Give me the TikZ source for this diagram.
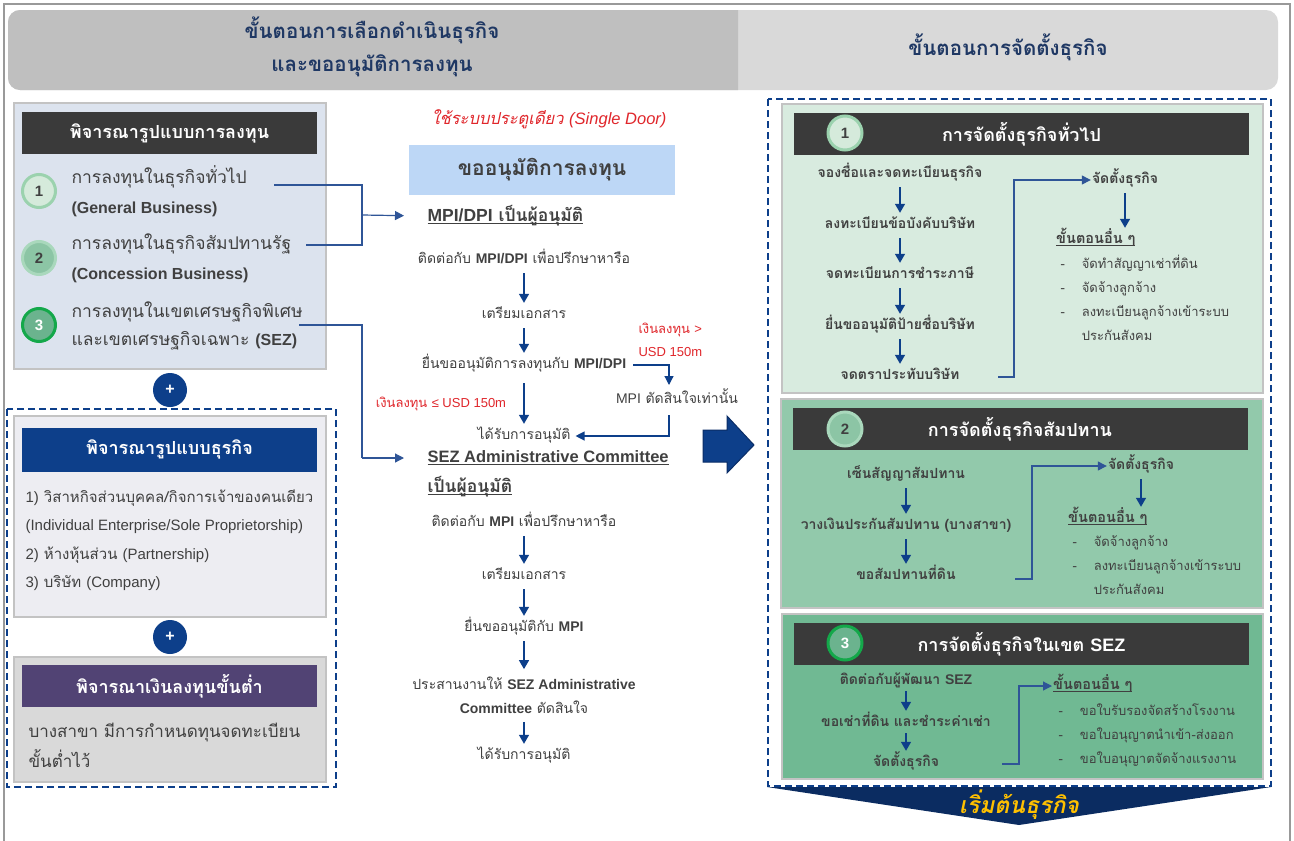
\documentclass[tikz,border=0pt]{standalone}
\usepackage{fontspec}
\setmainfont[Script=Thai]{Loma}
\newfontfamily\en{Liberation Sans}
\usetikzlibrary{arrows.meta}

\definecolor{hdrL}{HTML}{BFBFBF}
\definecolor{hdrR}{HTML}{D9D9D9}
\definecolor{hdrtxt}{HTML}{1F3864}
\definecolor{txt}{HTML}{404040}
\definecolor{bardark}{HTML}{3A3A3A}
\definecolor{navy}{HTML}{0D3F8A}
\definecolor{navydark}{HTML}{0A2D66}
\definecolor{purp}{HTML}{514374}
\definecolor{lnkblue}{HTML}{2F5597}
\definecolor{redtxt}{HTML}{E0262B}
\definecolor{ltblue}{HTML}{BDD7F6}
\definecolor{pnlA}{HTML}{DCE3EE}
\definecolor{pnlB}{HTML}{EDEDF2}
\definecolor{pnlC}{HTML}{D9D9D9}
\definecolor{pnlline}{HTML}{C3C3C3}
\definecolor{grnA}{HTML}{D8EBDF}
\definecolor{grnB}{HTML}{92C9AB}
\definecolor{grnC}{HTML}{70B993}
\definecolor{cirA}{HTML}{D5EADB}
\definecolor{cirAd}{HTML}{9BD2AE}
\definecolor{cirB}{HTML}{8CC5A5}
\definecolor{cirBd}{HTML}{A9D8BC}
\definecolor{cirC}{HTML}{6BB38E}
\definecolor{cirCd}{HTML}{14A84A}
\definecolor{chev}{HTML}{0B2C61}
\definecolor{gold}{HTML}{FFC000}

\newcommand\undl[1]{\setbox0\hbox{#1}\rlap{\rule[-2.5pt]{\wd0}{0.9pt}}\box0}

\begin{document}
\begin{tikzpicture}[x=1pt,y=-1pt,
  hdr/.style={text=hdrtxt,align=center,font=\bfseries\fontsize{20.5}{33}\selectfont},
  bar/.style={text=white,minimum width=295pt,inner sep=0pt,font=\bfseries\fontsize{18}{20}\selectfont},
  rbar/.style={fill=bardark,text=white,minimum width=455pt,minimum height=42pt,inner sep=0pt,font=\bfseries\fontsize{18}{20}\selectfont},
  numc/.style={circle,minimum size=33pt,inner sep=0pt,line width=3pt,text=txt,font=\en\bfseries\fontsize{15}{15}\selectfont},
  plus/.style={circle,fill=navy,minimum size=34pt,inner sep=0pt,text=white,font=\en\bfseries\fontsize{16}{16}\selectfont},
  item/.style={anchor=west,align=left,text=txt,font=\fontsize{17.5}{30}\selectfont},
  stp/.style={text=txt,text height=10pt,text depth=4pt,inner sep=1pt,font=\fontsize{14}{24}\selectfont},
  stp2/.style={text=txt,align=center,font=\fontsize{14}{24}\selectfont},
  rstp/.style={text=txt,text height=10pt,text depth=4pt,inner sep=1pt,font=\bfseries\fontsize{14}{16}\selectfont},
  redt/.style={text=redtxt,font=\fontsize{13}{23}\selectfont},
  ttl/.style={anchor=west,text=txt,font=\bfseries\fontsize{17.5}{20}\selectfont},
  rlst/.style={anchor=base west,text=txt,font=\fontsize{13}{24}\selectfont},
  arr/.style={draw=navy,line width=1.4pt,-{Triangle[length=9pt,width=10pt]},shorten <=5pt,shorten >=4pt},
  lnk/.style={draw=lnkblue,line width=1.2pt},
  tip/.style={-{Triangle[length=9pt,width=9pt]}},
  panel/.style={draw=pnlline,line width=1.5pt},
  dbox/.style={draw=navy,line width=1.6pt,dash pattern=on 7pt off 4pt}]
\useasboundingbox (0,0) rectangle (1294,841);
\fill[white] (0,0) rectangle (1294,841);
% frame
\draw[gray!80,line width=1.5pt] (4,4) rectangle (1290,850);

% headers
\fill[hdrR,rounded corners=12pt] (8,10) rectangle (1278,90);
\begin{scope}
  \clip (0,0) rectangle (738,100);
  \fill[hdrL,rounded corners=12pt] (8,10) rectangle (1278,90);
\end{scope}
\node[hdr] (hL) at (372,47) {ขั้นตอนการเลือกดำเนินธุรกิจ\\และขออนุมัติการลงทุน};
\node[hdr] (hR) at (1008,47) {ขั้นตอนการจัดตั้งธุรกิจ};

% investment type
\draw[panel,fill=pnlA] (14,103) rectangle (326,369);
\node[bar,fill=bardark,minimum height=42pt] (bA) at (169.5,133) {พิจารณารูปแบบการลงทุน};
\node[numc,fill=cirA,draw=cirAd] (n1) at (39,191) {1};
\node[numc,fill=cirB,draw=cirBd] (n2) at (39,258) {2};
\node[numc,fill=cirC,draw=cirCd,text=white] (n3) at (39,325) {3};
\node[item] (it1) at (68,191) {การลงทุนในธุรกิจทั่วไป\\{\en\bfseries\fontsize{16}{16}\selectfont (General Business)}};
\node[item] (it2) at (68,258) {การลงทุนในธุรกิจสัมปทานรัฐ\\{\en\bfseries\fontsize{16}{16}\selectfont (Concession Business)}};
\node[item,font=\fontsize{17.5}{28}\selectfont] (it3) at (68,326) {การลงทุนในเขตเศรษฐกิจพิเศษ\\และเขตเศรษฐกิจเฉพาะ {\en\bfseries\fontsize{16}{16}\selectfont (SEZ)}};

\node[plus] (p1) at (170,390) {+};
\draw[dbox] (7,409) rectangle (336,787);

% business type
\draw[panel,fill=pnlB] (14,416) rectangle (326,617);
\node[bar,fill=navy,minimum height=44pt] (bB) at (169.5,449.5) {พิจารณารูปแบบธุรกิจ};
\node[item,font=\fontsize{15}{28.5}\selectfont] (lB) at (22,540) {{\en 1)} วิสาหกิจส่วนบุคคล/กิจการเจ้าของคนเดียว\\{\en (Individual Enterprise/Sole Proprietorship)}\\{\en 2)} ห้างหุ้นส่วน {\en (Partnership)}\\{\en 3)} บริษัท {\en (Company)}};

\node[plus] (p2) at (170,637) {+};

% minimum capital
\draw[panel,fill=pnlC] (14,657) rectangle (326,782);
\node[bar,fill=purp,minimum height=42pt] (bC) at (169.5,686) {พิจารณาเงินลงทุนขั้นต่ำ};
\node[item,font=\fontsize{17}{30}\selectfont] (lC) at (25,745) {บางสาขา มีการกำหนดทุนจดทะเบียน\\ขั้นต่ำไว้};

% single door
\node[redt,font=\itshape\fontsize{16.5}{18}\selectfont] (sd) at (549,119) {ใช้ระบบประตูเดียว {\en (Single Door)}};
\node[fill=ltblue,minimum width=266pt,minimum height=50pt,text=txt,font=\bfseries\fontsize{21}{24}\selectfont] (ap) at (542,170) {ขออนุมัติการลงทุน};

\node[ttl] (mpi) at (424,216) {\undl{{\en MPI/DPI} เป็นผู้อนุมัติ}};
\node[stp] (m1) at (524,260) {ติดต่อกับ {\en\bfseries MPI/DPI} เพื่อปรึกษาหารือ};
\node[stp] (m2) at (524,315) {เตรียมเอกสาร};
\node[stp] (m3) at (524,365) {ยื่นขออนุมัติการลงทุนกับ {\en\bfseries MPI/DPI}};
\node[stp] (m4) at (524,436) {ได้รับการอนุมัติ};
\node[redt] (r1) at (441,404) {เงินลงทุน {\en ≤ USD 150m}};
\node[redt,anchor=west,align=left] (r2) at (635,339.5) {เงินลงทุน {\en >}\\{\en USD 150m}};
\node[stp] (m5) at (677,400) {{\en MPI} ตัดสินใจเท่านั้น};
\draw[arr] (m1) -- (m2);
\draw[arr] (m2) -- (m3);
\draw[arr,shorten <=10pt] (m3) -- (m4);
\coordinate (k1) at (669,385);
\coordinate (k2) at (669,415);
\draw[lnk,tip,draw=navy] ([xshift=6pt]m3.east) -| (k1);
\draw[lnk,tip,draw=navy,shorten >=4pt] (k2) |- (m4.east);

% connectors from investment type
\coordinate (c1) at (274,185);
\coordinate (c2) at (306,245);
\coordinate (c3) at (299,325);
\coordinate (j1) at (362,215);
\coordinate (j2) at (362,458);
\draw[lnk] (c1) -| (j1) |- (c2);
\draw[lnk,tip,shorten >=20pt] (j1) -- (mpi.west);
\draw[lnk] (c3) -| (j2);

\node[ttl,font=\en\bfseries\fontsize{16.5}{20}\selectfont] (sez1) at (424,458) {\undl{SEZ Administrative Committee}};
\node[ttl] (sez2) at (424,487) {\undl{เป็นผู้อนุมัติ}};
\draw[lnk,tip,shorten >=20pt] (j2) -- (sez1.west);
\node[stp] (m6) at (524,523) {ติดต่อกับ {\en\bfseries MPI} เพื่อปรึกษาหารือ};
\node[stp] (m7) at (524,576) {เตรียมเอกสาร};
\node[stp] (m8) at (524,628) {ยื่นขออนุมัติกับ {\en\bfseries MPI}};
\node[stp2] (m9) at (524,695) {ประสานงานให้ {\en\bfseries SEZ Administrative}\\{\en\bfseries Committee} ตัดสินใจ};
\node[stp] (m10) at (524,756) {ได้รับการอนุมัติ};
\draw[arr] (m6) -- (m7);
\draw[arr] (m7) -- (m8);
\draw[arr] (m8) -- (m9);
\draw[arr] (m9) -- (m10);

% big arrow
\draw[fill=navy,draw=navydark,line width=1pt] (703,430) -- (727,430) -- (727,416) -- (754,445)
  -- (727,473) -- (727,462) -- (703,462) -- cycle;

% setting up
\draw[dbox] (768,99) rectangle (1271,786);

% general
\draw[panel,fill=grnA] (782,104) rectangle (1263,393);
\node[rbar] (tA) at (1021.5,134) {การจัดตั้งธุรกิจทั่วไป};
\node[numc,fill=cirA,draw=cirAd,minimum size=34pt] (q1) at (845,133) {1};
\node[rstp] (a1) at (900,174) {จองชื่อและจดทะเบียนธุรกิจ};
\node[rstp] (a2) at (900,225) {ลงทะเบียนข้อบังคับบริษัท};
\node[rstp] (a3) at (900,275) {จดทะเบียนการชำระภาษี};
\node[rstp] (a4) at (900,326) {ยื่นขออนุมัติป้ายชื่อบริษัท};
\node[rstp] (a5) at (900,376) {จดตราประทับบริษัท};
\node[rstp] (a6) at (1125,180) {จัดตั้งธุรกิจ};
\node[rstp,anchor=west,font=\bfseries\fontsize{14.5}{16}\selectfont] (a7) at (1055,240) {\undl{ขั้นตอนอื่น ๆ}};
\node[rlst] (a8) at (1057,268) {\begin{tabular}[t]{@{}l@{\hspace{17pt}}l@{}}-&จัดทำสัญญาเช่าที่ดิน\\-&จัดจ้างลูกจ้าง\\-&ลงทะเบียนลูกจ้างเข้าระบบ\\&ประกันสังคม\end{tabular}};
\draw[arr] (a1) -- (a2);
\draw[arr] (a2) -- (a3);
\draw[arr] (a3) -- (a4);
\draw[arr] (a4) -- (a5);
\draw[arr] (a6) -- (a7.north -| a6);
\coordinate (g1) at (998,377);
\coordinate (g2) at (1014,180);
\draw[lnk,tip] (g1) -| (g2) -- (a6.west);

% concession
\draw[panel,fill=grnB] (781,399) rectangle (1263,608);
\node[rbar] (tB) at (1020,429) {การจัดตั้งธุรกิจสัมปทาน};
\node[numc,fill=cirB,draw=cirBd,minimum size=34pt] (q2) at (845,429) {2};
\node[rstp] (b1) at (906,475) {เซ็นสัญญาสัมปทาน};
\node[rstp] (b2) at (906,526) {วางเงินประกันสัมปทาน (บางสาขา)};
\node[rstp] (b3) at (906,576) {ขอสัมปทานที่ดิน};
\node[rstp] (b4) at (1141,466) {จัดตั้งธุรกิจ};
\node[rstp,anchor=west,font=\bfseries\fontsize{14.5}{16}\selectfont] (b5) at (1067,519) {\undl{ขั้นตอนอื่น ๆ}};
\node[rlst] (b6) at (1069,546) {\begin{tabular}[t]{@{}l@{\hspace{17pt}}l@{}}-&จัดจ้างลูกจ้าง\\-&ลงทะเบียนลูกจ้างเข้าระบบ\\&ประกันสังคม\end{tabular}};
\draw[arr] (b1) -- (b2);
\draw[arr] (b2) -- (b3);
\draw[arr] (b4) -- (b5.north -| b4);
\coordinate (g3) at (1015,579);
\coordinate (g4) at (1032,466);
\draw[lnk,tip] (g3) -| (g4) -- (b4.west);

% SEZ
\draw[panel,fill=grnC] (782,614) rectangle (1263,779);
\node[rbar] (tC) at (1021.5,644) {การจัดตั้งธุรกิจในเขต {\en SEZ}};
\node[numc,fill=cirC,draw=cirCd,text=white,minimum size=34pt] (q3) at (845,643) {3};
\node[rstp] (d1) at (906,681) {ติดต่อกับผู้พัฒนา {\en SEZ}};
\node[rstp] (d2) at (906,723) {ขอเช่าที่ดิน และชำระค่าเช่า};
\node[rstp] (d3) at (906,763) {จัดตั้งธุรกิจ};
\node[rstp,anchor=west,font=\bfseries\fontsize{14.5}{16}\selectfont] (d4) at (1052,686) {\undl{ขั้นตอนอื่น ๆ}};
\node[rlst] (d5) at (1055,715) {\begin{tabular}[t]{@{}l@{\hspace{17pt}}l@{}}-&ขอใบรับรองจัดสร้างโรงงาน\\-&ขอใบอนุญาตนำเข้า-ส่งออก\\-&ขอใบอนุญาตจัดจ้างแรงงาน\end{tabular}};
\draw[arr,shorten <=2pt,shorten >=4pt] (d1) -- (d2);
\draw[arr,shorten <=2pt,shorten >=4pt] (d2) -- (d3);
\coordinate (g5) at (1002,764);
\coordinate (g6) at (1019,686);
\draw[lnk,tip] (g5) -| (g6) -- (d4.west);

% start business
\fill[chev] (767,787) -- (1271,787) -- (1019,825) -- cycle;
\node[text=gold,font=\bfseries\itshape\fontsize{23}{25}\selectfont] (go) at (1019,805) {เริ่มต้นธุรกิจ};
\end{tikzpicture}
\end{document}
